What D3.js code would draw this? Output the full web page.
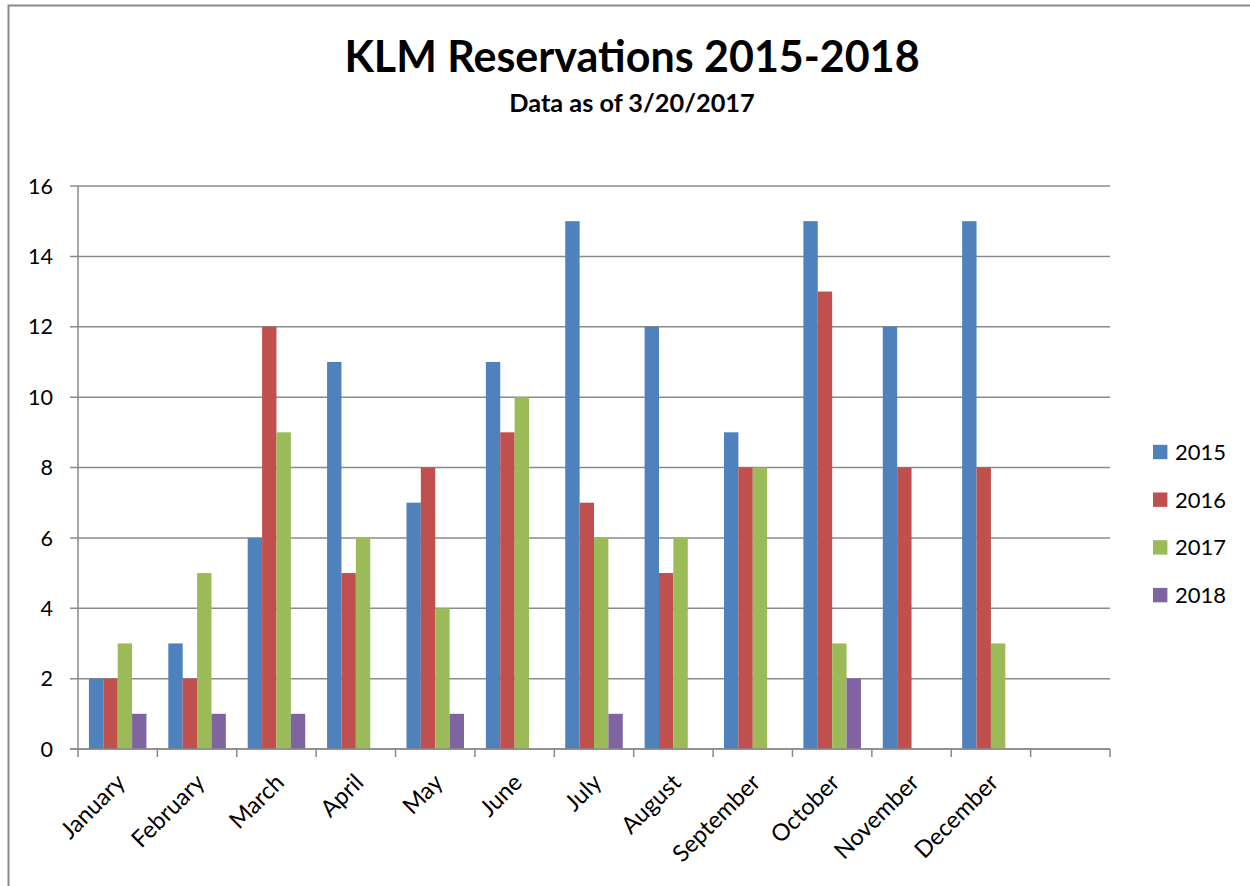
<!DOCTYPE html>
<html>
<head>
<meta charset="utf-8">
<script src="https://cdn.jsdelivr.net/npm/d3@7"></script>
<style>
  body { margin: 0; background: #fff; }
  svg { display: block; font-family: Lato, "Open Sans", sans-serif; }
</style>
</head>
<body>
<svg width="1250" height="886"></svg>
<script>
// Data ======================================================
var months = ["January", "February", "March", "April", "May", "June", "July",
              "August", "September", "October", "November", "December", ""];
var years = ["2015", "2016", "2017", "2018"];
var res2015 = [2, 3, 6, 11, 7, 11, 15, 12, 9, 15, 12, 15];
var res2016 = [2, 2, 12, 5, 8, 9, 7, 5, 8, 13, 8, 8];
var res2017 = [3, 5, 9, 6, 4, 10, 6, 6, 8, 3, 0, 3];
var res2018 = [1, 1, 1, 0, 1, 0, 1, 0, 0, 2, 0, 0];
var yTicks = [0, 2, 4, 6, 8, 10, 12, 14, 16];
var colors = ["#4F81BD", "#C0504D", "#9BBB59", "#8064A2"];

var series = [res2015, res2016, res2017, res2018];

// Setup =====================================================
var svg = d3.select("svg");
var gridColor = "#8a8a8a";

// outer chart border (right and bottom run off the picture)
svg.append("rect")
  .attr("x", 8.5).attr("y", 5.5)
  .attr("width", 1300).attr("height", 1000)
  .attr("fill", "none")
  .attr("stroke", gridColor)
  .attr("stroke-width", 2);

var x = d3.scaleBand().domain(months).range([78, 1110]);
var xInner = d3.scaleBand().domain(years).range([0, x.bandwidth()])
  .paddingInner(0).paddingOuter(0.76);
var y = d3.scaleLinear().domain([0, 16]).range([749, 186]);
var color = d3.scaleOrdinal().domain(years).range(colors);

// Title =====================================================
svg.append("text")
  .attr("x", 632).attr("y", 72)
  .attr("text-anchor", "middle")
  .attr("font-size", 43).attr("font-weight", "bold")
  .text("KLM Reservations 2015-2018");

svg.append("text")
  .attr("x", 632).attr("y", 112)
  .attr("text-anchor", "middle")
  .attr("font-size", 25.3).attr("font-weight", "bold")
  .text("Data as of 3/20/2017");

// Grid ======================================================
svg.append("g")
  .attr("class", "grid")
  .selectAll("line")
  .data(yTicks)
  .enter().append("line")
  .attr("x1", 70).attr("x2", 1110)
  .attr("y1", function(d) { return y(d); })
  .attr("y2", function(d) { return y(d); })
  .attr("stroke", gridColor)
  .attr("stroke-width", 1.5);

// y labels
svg.append("g")
  .selectAll("text")
  .data(yTicks)
  .enter().append("text")
  .attr("x", 53)
  .attr("y", function(d) { return y(d); })
  .attr("dy", "0.36em")
  .attr("text-anchor", "end")
  .attr("font-size", 21.5)
  .text(function(d) { return d; });

// Bars ======================================================
var groups = svg.append("g")
  .selectAll("g")
  .data(months.slice(0, 12))
  .enter().append("g")
  .attr("transform", function(d) { return "translate(" + x(d) + ",0)"; });

groups.selectAll("rect")
  .data(function(d, i) {
    return years.map(function(yr, j) { return { year: yr, value: series[j][i] }; });
  })
  .enter().append("rect")
  .filter(function(d) { return d.value > 0; })
  .attr("x", function(d) { return xInner(d.year); })
  .attr("width", xInner.bandwidth())
  .attr("y", function(d) { return y(d.value); })
  .attr("height", function(d) { return y(0) - y(d.value); })
  .attr("fill", function(d) { return color(d.year); });

// Axes ======================================================
var axis = svg.append("g").attr("stroke", gridColor).attr("stroke-width", 1.5);
axis.append("line")
  .attr("x1", 78).attr("x2", 78)
  .attr("y1", y(16)).attr("y2", y(0) + 8);
axis.append("line")
  .attr("x1", 70).attr("x2", 1110)
  .attr("y1", y(0)).attr("y2", y(0));

// category boundary ticks
axis.selectAll(".xtick")
  .data(months)
  .enter().append("line")
  .attr("class", "xtick")
  .attr("x1", function(d) { return x(d) + x.bandwidth(); })
  .attr("x2", function(d) { return x(d) + x.bandwidth(); })
  .attr("y1", y(0)).attr("y2", y(0) + 8);

// x labels, rotated
svg.append("g")
  .selectAll("text")
  .data(months)
  .enter().append("text")
  .attr("text-anchor", "end")
  .attr("font-size", 23.5)
  .attr("transform", function(d) {
    return "translate(" + (x(d) + x.bandwidth() / 2 + 9) + "," + 784 + ") rotate(-45)";
  })
  .text(function(d) { return d; });

// Legend ====================================================
var legend = svg.append("g")
  .selectAll("g")
  .data(years)
  .enter().append("g")
  .attr("transform", function(d, i) { return "translate(1153," + (452 + i * 47.7) + ")"; });

legend.append("rect")
  .attr("x", 0).attr("y", -7.2)
  .attr("width", 14.4).attr("height", 14.4)
  .attr("fill", function(d) { return color(d); });

legend.append("text")
  .attr("x", 22).attr("y", 0)
  .attr("dy", "0.36em")
  .attr("font-size", 22)
  .text(function(d) { return d; });
</script>
</body>
</html>
